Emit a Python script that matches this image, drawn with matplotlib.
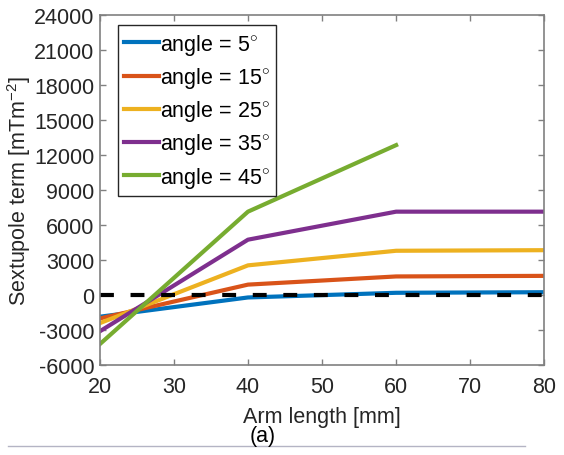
import matplotlib
matplotlib.use("Agg")
import matplotlib.pyplot as plt
from matplotlib.lines import Line2D

plt.rcParams['font.family'] = ['Liberation Sans', 'DejaVu Sans']
plt.rcParams['mathtext.fontset'] = 'custom'
plt.rcParams['mathtext.rm'] = 'Liberation Sans'
plt.rcParams['mathtext.it'] = 'Liberation Sans'
plt.rcParams['lines.scale_dashes'] = False
plt.rcParams['axes.unicode_minus'] = False

# sextupole term vs arm length, one curve per angle
arm_length = [20, 40, 60, 80]
angle_5 = [-1850, -200, 200, 250]
angle_15 = [-2000, 900, 1600, 1650]
angle_25 = [-2400, 2550, 3800, 3850]
angle_35 = [-3100, 4750, 7150, 7150]
arm_length_45 = [20, 40, 60]
angle_45 = [-4200, 7150, 12850]

labels = [r'angle = 5$^{\circ}$', r'angle = 15$^{\circ}$', r'angle = 25$^{\circ}$',
          r'angle = 35$^{\circ}$', r'angle = 45$^{\circ}$']
colors = ['#0072BD', '#D95319', '#EDB120', '#7E2F8E', '#77AC30']

xticks = [20, 30, 40, 50, 60, 70, 80]
yticks = list(range(-6000, 24001, 3000))

fig = plt.figure(figsize=(5.64, 4.56), dpi=100)
ax = fig.add_axes([0.177, 0.197, 0.788, 0.768])

ax.plot(arm_length, angle_5, color=colors[0], lw=3, label=labels[0])
ax.plot(arm_length, angle_15, color=colors[1], lw=3, label=labels[1])
ax.plot(arm_length, angle_25, color=colors[2], lw=3, label=labels[2])
ax.plot(arm_length, angle_35, color=colors[3], lw=3, label=labels[3])
ax.plot(arm_length_45, angle_45, color=colors[4], lw=3, label=labels[4])
ax.plot([arm_length[0], arm_length[-1]], [0, 0], color='black', lw=3,
        dashes=(10, 12))

ax.set_xlim(20, 80)
ax.set_ylim(-6000, 24000)
ax.set_xticks(xticks)
ax.set_yticks(yticks)

text_color = '#262626'
for s in ax.spines.values():
    s.set_color('#808080')
    s.set_linewidth(1.2)
ax.tick_params(direction='in', length=4, width=1, colors='#808080',
               labelcolor=text_color, labelsize=15.5, top=True, right=True)
ax.tick_params(axis='x', pad=8)
ax.tick_params(axis='y', pad=4)

ax.set_xlabel('Arm length [mm]', fontsize=15.5, color=text_color, labelpad=6)
ax.set_ylabel('Sextupole term [mTm$^{-2}$]', fontsize=15.5, color=text_color,
              labelpad=1)

leg = ax.legend(loc='upper left', fontsize=15.5, handlelength=1.6,
                handletextpad=0.05, borderpad=0.3, labelspacing=0.38,
                fancybox=False, framealpha=1, bbox_to_anchor=(0.04, 0.97),
                borderaxespad=0)
leg.get_frame().set_edgecolor('#262626')
leg.get_frame().set_linewidth(1)

fig.text(0.465, 0.042, '(a)', ha='center', va='center', fontsize=15.5,
         color='black')
fig.add_artist(Line2D([0.015, 0.93], [0.02, 0.02], color='#b4b4c4', lw=1))

fig.savefig('out.png', dpi=100)
